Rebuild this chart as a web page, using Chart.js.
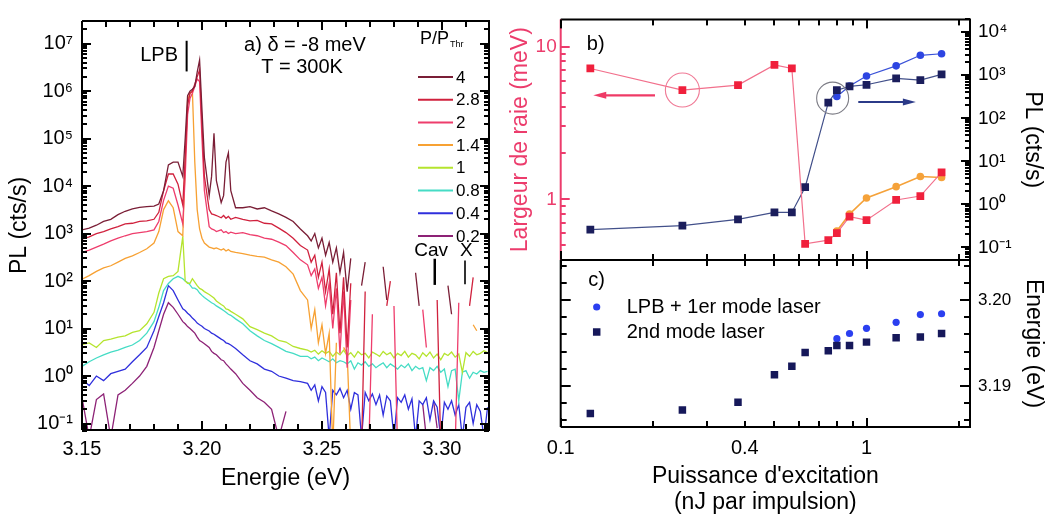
<!DOCTYPE html>
<html>
<head>
<meta charset="utf-8">
<script src="https://cdn.jsdelivr.net/npm/chart.js"></script>
<style>
  body { margin: 0; background: #fff; }
  #wrap { position: relative; width: 1050px; height: 523px; }
  canvas { position: absolute; left: 0; top: 0; }
</style>
</head>
<body>
<div id="wrap">
  <canvas id="chartA" width="1050" height="523"></canvas>
  <canvas id="chartB" width="1050" height="523"></canvas>
  <canvas id="chartC" width="1050" height="523"></canvas>
</div>
<script>
// ---------- panel a : PL spectra ----------
// finer steps in the noisy high-energy tail
const energy = [3.150,3.153,3.156,3.159,3.162,3.165,3.168,3.171,3.174,3.177,3.180,3.182,3.184,3.186,3.188,3.190,3.192,3.193,3.194,3.195,3.196,3.197,3.198,3.199,3.200,3.201,3.203,3.204,3.205,3.206,3.208,3.209,3.210,3.211,3.212,3.214,3.217,3.220,3.223,3.226,3.229,3.232,3.235,3.238,3.241,
  3.2440,3.2455,3.2470,3.2485,3.2500,3.2515,3.2530,3.2545,3.2560,3.2575,
  3.2590,3.2605,3.2620,3.2635,3.2650,3.2665,3.2680,3.2695,3.2710,3.2725,
  3.2740,3.2755,3.2770,3.2785,3.2800,3.2815,3.2830,3.2845,3.2860,3.2875,
  3.2890,3.2905,3.2920,3.2935,3.2950,3.2965,3.2980,3.2995,3.3010,3.3025,
  3.3040,3.3055,3.3070,3.3085,3.3100,3.3115,3.3130,3.3145,3.3160,3.3175,
  3.3190];
const powerRatio = ['4', '2.8', '2', '1.4', '1', '0.8', '0.4', '0.2'];

const spec4 = [1200,1300,1500,1800,2000,2500,2950,3300,3550,3700,3800,4200,
  8000,2.8e4,3.2e4,3.2e4,1.6e4,
  1e5,8e5,1e6,1.1e6,1.25e6,2.5e6,4.5e6,4e5,4e4,
  6300,1.6e4,1.3e5,1.3e4,4500,6300,3.2e4,5e4,8000,3500,
  3500,3700,3300,3500,3000,2600,2200,1800,1250,
  900,700,1000,500,800,350,650,250,500,150,
  400,60,300,null,null,80,250,null,null,null,
  null,200,40,null,null,null,null,null,null,null,
  150,30,null,null,null,null,null,null,null,80,
  20,null,null,null,null,null,null,null,null,null,
  null];
const spec28 = [760,850,1000,1100,1250,1400,1600,1650,1800,1850,2000,2800,
  8000,1.8e4,1.8e4,1.1e4,4000,
  4e4,5e5,9e5,1e6,1.4e6,2e6,2.8e6,2e5,1.6e4,
  3200,2600,2500,2400,2150,2400,2100,2300,2000,2200,
  2000,1850,1900,1650,1600,1300,1050,800,560,
  450,250,350,120,250,60,180,20,150,8,
  120,4,90,null,null,0.03,60,null,null,null,
  null,null,30,100,null,null,null,null,null,null,
  null,null,null,null,null,null,40,0.03,null,null,
  null,null,null,null,null,30,120,null,null,null,
  null];
const spec2 = [400,450,520,600,700,800,900,1000,1050,1100,1200,1800,
  5000,1e4,9000,4000,1600,
  1.6e4,3.2e5,7e5,9e5,1.25e6,1.8e6,1.6e6,1e5,8000,
  1400,1250,1200,1100,1200,1050,1100,1000,1070,1000,
  1050,950,900,800,760,660,560,400,280,
  220,130,180,70,120,30,90,10,70,3,
  60,1.5,40,null,null,null,null,0.03,20,null,
  null,null,null,null,30,0.03,null,null,null,null,
  null,null,25,4,null,null,null,null,null,null,
  null,0.03,35,null,null,null,null,null,null,null,
  null];
const spec14 = [110,130,160,190,210,250,300,340,400,480,630,1100,
  3200,4900,3500,1100,900,
  3.2e4,6.3e5,9e5,1e6,3.2e4,3200,1250,800,630,
  520,500,480,500,450,480,430,460,420,400,
  380,350,330,320,280,250,200,140,63,
  40,10,25,5,12,3,8,0.03,5,null,
  4,3,0.03,null,null,null,null,null,null,null,
  null,null,null,null,null,null,null,null,null,null,
  null,null,null,null,null,null,null,null,null,null,
  null,null,null,null,null,null,12,9,null,null,
  null];
const spec1 = [4.6,5,4,5.6,6,6.6,7,8.3,9,12.6,22,56,
  112,125,130,160,870,
  100,90,90,112,95,80,70,66,60,
  52,48,44,38,32,30,26,25,23,20,
  16,11,9.5,8,7,5.6,5.2,4.2,3.8,
  3.5,3.2,3.5,2.9,3.4,3.0,3.3,2.6,3.2,2.8,
  3.5,2.7,3.1,2.5,3.3,2.8,3.0,2.4,3.2,2.9,
  2.6,3.3,2.8,3.1,2.4,3.0,2.7,3.3,2.5,3.0,
  2.8,2.3,3.1,2.6,3.2,2.4,2.9,2.2,3.0,2.7,
  3.2,2.5,2.9,1.2,3.1,2.6,3.3,2.8,3.0,3.4,
  3.1];
const spec08 = [1.6,2,2.4,2.8,3.2,3.5,4,4.5,5.6,8,14,28,
  63,89,112,126,112,
  100,93,83,71,71,66,56,50,45,
  38,35,33,30,26,24,22,20,19,16,
  12.6,9,7,5.6,4.8,4,3.3,3,2.6,
  2.6,2.3,2.5,2.1,2.4,2.2,2.0,2.3,1.9,2.1,
  2.0,1.8,2.1,1.4,1.9,1.7,2.0,1.6,1.8,1.5,
  1.7,1.9,1.5,1.8,1.6,1.4,1.7,1.5,1.8,1.3,
  1.6,1.4,1.5,0.8,1.5,1.3,1.6,1.2,1.4,0.6,
  1.3,1.4,0.3,1.2,1.3,0.9,1.2,1.1,1.3,1.2,
  1.25];
const spec04 = [0.85,0.63,1.0,0.8,1.12,1.26,1.4,2,2.8,4,9,18,
  35,80,63,40,26,
  24,21,19,16.6,15,13,12,11.2,10,
  8.9,8,7.6,7,6,5.6,5,4.8,4.5,3.8,
  2.8,2.1,1.8,1.4,1.26,1.0,0.9,0.8,0.76,
  0.7,0.5,0.65,0.3,0.6,0.45,0.05,0.5,0.4,0.55,
  0.35,0.5,0.2,0.45,0.4,0.05,0.45,0.3,0.42,0.25,
  0.4,0.15,0.38,0.3,0.05,0.35,0.28,0.4,0.2,0.33,
  0.05,0.3,0.25,0.35,0.12,0.3,0.22,0.05,0.28,0.2,
  0.3,0.15,0.25,0.05,0.22,0.28,0.1,0.25,0.18,0.05,
  0.22];
const spec02 = [0.35,0.05,0.32,0.42,0.05,0.4,0.5,0.7,1.0,1.6,4,9,
  20,35,28,20,14,
  12.6,11,10,9,8,6.6,5.6,5.2,4.8,
  4,3.3,3,2.8,2.2,2.1,1.8,1.6,1.4,1.12,
  0.7,0.5,0.35,0.28,0.2,0.05,0.18,null,null,
  null,null,null,null,null,null,null,null,null,null,
  null,null,null,null,null,null,null,null,null,null,
  null,null,null,null,null,null,null,null,null,null,
  null,null,0.25,0.05,null,0.3,0.08,null,null,null,
  null,null,null,null,null,null,null,null,null,null,
  null];
const spectra = [spec4, spec28, spec2, spec14, spec1, spec08, spec04, spec02];
const specColors = ['#7a1e36', '#d0213d', '#ee3d6c', '#f7a133', '#b5e42e', '#45dcc5', '#2f2fdc', '#8d2276'];
const energyTicks = [3.15, 3.20, 3.25, 3.30];

// ---------- panels b and c : power series ----------
const power = [0.125, 0.25, 0.38, 0.5, 0.57, 0.63, 0.75, 0.8, 0.88, 1.0, 1.25, 1.5, 1.76];
const linewidthMeV = [7.2, 5.2, 5.6, 7.6, 7.2, 0.51, 0.54, 0.6, 0.77, 0.73, 0.99, 1.05, 1.5];
const plMode2 = [0.26, 0.32, 0.45, 0.65, 0.65, 2.5, 230, 450, 550, 600, 840, 770, 1050];
const powerLasing = [0.8, 0.88, 1.0, 1.25, 1.5, 1.76];
const plLpb = [320, 560, 960, 1650, 2900, 3150];
const linewidthLpb = [0.62, 0.80, 1.02, 1.21, 1.41, 1.39];
const energyMode2 = [3.1868, 3.1872, 3.1881, 3.1913, 3.1923, 3.1939, 3.1941, 3.1947, 3.1947, 3.1951, 3.1956, 3.1957, 3.1961];
const energyLpb = [3.1955, 3.1961, 3.1967, 3.1974, 3.1983, 3.1984];
const powerTicks = [0.1, 0.4, 1];
const energyCTicks = [3.19, 3.20];

const FONT = "'Liberation Sans', Arial, Helvetica, sans-serif";
const INK = '#000000';
const PINK = '#ec3c6c';
Chart.defaults.font.family = FONT;
Chart.defaults.color = INK;

const SUP = {'-': '\u207B', '0': '\u2070', '1': '\u00B9', '2': '\u00B2', '3': '\u00B3', '4': '\u2074',
  '5': '\u2075', '6': '\u2076', '7': '\u2077', '8': '\u2078', '9': '\u2079'};
const pow10Label = v => '10' + String(Math.round(Math.log10(v))).split('').map(c => SUP[c]).join('');

function decades(lo, hi) {
  const out = [];
  for (let e = lo; e <= hi; e++) out.push(Math.pow(10, e));
  return out;
}
function logMinors(lo, hi) {
  const out = [];
  for (let e = lo; e <= hi; e++) for (let k = 2; k < 10; k++) out.push(k * Math.pow(10, e));
  return out;
}
function steps(lo, hi, step) {
  const out = [];
  for (let v = lo; v <= hi + step / 10; v += step) out.push(+v.toFixed(4));
  return out;
}

function frame(ctx, a, leftColor) {
  ctx.lineWidth = 2;
  ctx.strokeStyle = INK;
  ctx.beginPath();
  ctx.moveTo(a.left, a.top); ctx.lineTo(a.right, a.top);
  ctx.lineTo(a.right, a.bottom); ctx.lineTo(a.left, a.bottom);
  ctx.stroke();
  ctx.strokeStyle = leftColor || INK;
  ctx.beginPath(); ctx.moveTo(a.left, a.top); ctx.lineTo(a.left, a.bottom); ctx.stroke();
}
// inward tick marks, positioned through the chart scales
function tickMarks(ctx, a, scale, values, len, side, color) {
  ctx.fillStyle = color || INK;
  for (const v of values) {
    const p = Math.round(scale.getPixelForValue(v));
    if (side === 'bottom' || side === 'top') {
      if (!(p >= a.left - 1 && p <= a.right + 1)) continue;
      ctx.fillRect(p - 1, side === 'bottom' ? a.bottom - len : a.top, 2, len);
    } else {
      if (!(p >= a.top - 1 && p <= a.bottom + 1)) continue;
      ctx.fillRect(side === 'left' ? a.left : a.right - len, p - 1, len, 2);
    }
  }
}
function label(ctx, str, x, y, size, color, align) {
  ctx.font = size + 'px ' + FONT;
  ctx.fillStyle = color || INK;
  ctx.textAlign = align || 'center';
  ctx.textBaseline = 'middle';
  ctx.fillText(str, x, y);
}
function arrow(ctx, x1, y, x2, color, w) {
  const dir = Math.sign(x2 - x1);
  ctx.strokeStyle = color; ctx.fillStyle = color; ctx.lineWidth = w;
  ctx.beginPath(); ctx.moveTo(x1, y); ctx.lineTo(x2 - dir * 8, y); ctx.stroke();
  ctx.beginPath(); ctx.moveTo(x2, y); ctx.lineTo(x2 - dir * 13, y - 3.5); ctx.lineTo(x2 - dir * 13, y + 3.5);
  ctx.closePath(); ctx.fill();
}
function vline(ctx, x, y1, y2, w) {
  ctx.strokeStyle = INK; ctx.lineWidth = w;
  ctx.beginPath(); ctx.moveTo(x, y1); ctx.lineTo(x, y2); ctx.stroke();
}

const fixedAxis = { grid: { display: false, drawTicks: false }, border: { display: false } };

// ---------- chart a ----------
const panelA = {
  id: 'panelA',
  afterDraw(chart) {
    const { ctx, chartArea: a, scales: { x, y } } = chart;
    ctx.save();
    frame(ctx, a);
    const eMinor = steps(3.16, 3.31, 0.01).filter(v => !energyTicks.includes(v));
    ['bottom', 'top'].forEach(s => {
      tickMarks(ctx, a, x, energyTicks, 9, s);
      tickMarks(ctx, a, x, eMinor, 6, s);
    });
    ['left', 'right'].forEach(s => {
      tickMarks(ctx, a, y, decades(-1, 7), 9, s);
      tickMarks(ctx, a, y, logMinors(-2, 7), 5, s);
    });
    // LPB marker
    label(ctx, 'LPB', x.getPixelForValue(3.190), y.getPixelForValue(5.7e6), 20, INK, 'right');
    vline(ctx, x.getPixelForValue(3.1936), y.getPixelForValue(1.15e7), y.getPixelForValue(2.6e6), 2);
    label(ctx, 'a) \u03B4 = -8 meV', x.getPixelForValue(3.2429), y.getPixelForValue(9.1e6), 20);
    label(ctx, 'T = 300K', x.getPixelForValue(3.2417), y.getPixelForValue(3.1e6), 20);
    // Cav and X markers
    label(ctx, 'Cav', x.getPixelForValue(3.2955), y.getPixelForValue(430), 19);
    label(ctx, 'X', x.getPixelForValue(3.3102), y.getPixelForValue(430), 19);
    vline(ctx, x.getPixelForValue(3.297), y.getPixelForValue(295), y.getPixelForValue(83), 2.5);
    vline(ctx, x.getPixelForValue(3.3096), y.getPixelForValue(270), y.getPixelForValue(86), 1.6);
    // legend
    const lx = a.right - 71, ly = a.top + 18;
    label(ctx, 'P/P', lx + 2, ly, 18, INK, 'left');
    const w = ctx.measureText('P/P').width;
    label(ctx, 'Thr', lx + 3 + w, ly + 6, 9, INK, 'left');
    chart.data.datasets.forEach((ds, i) => {
      const yy = a.top + 56 + i * 22.7;
      ctx.strokeStyle = ds.borderColor; ctx.lineWidth = 2;
      ctx.beginPath(); ctx.moveTo(lx, yy); ctx.lineTo(lx + 35, yy); ctx.stroke();
      label(ctx, ds.label, lx + 38, yy + 1, 17, INK, 'left');
    });
    ctx.restore();
  }
};

new Chart(document.getElementById('chartA'), {
  type: 'line',
  data: {
    datasets: spectra.map((s, i) => ({
      label: powerRatio[i],
      data: energy.map((e, j) => ({ x: e, y: s[j] })),
      borderColor: specColors[i],
      borderWidth: 1.3,
      pointRadius: 0,
      spanGaps: false
    }))
  },
  options: {
    responsive: false, animation: false, devicePixelRatio: 1,
    layout: { padding: { left: 0, right: 561, top: 7, bottom: 0 } },
    plugins: { legend: { display: false }, tooltip: { enabled: false } },
    scales: {
      x: {
        ...fixedAxis, type: 'linear', min: 3.15, max: 3.3196,
        afterBuildTicks: s => { s.ticks = energyTicks.map(v => ({ value: v })); },
        afterFit: s => { s.height = 93; },
        ticks: { padding: 7, font: { size: 20 }, color: INK, autoSkip: false, maxRotation: 0, callback: v => v.toFixed(2) },
        title: { display: true, text: 'Energie (eV)', font: { size: 23 }, color: INK, padding: { top: 0, bottom: 31 } }
      },
      y: {
        ...fixedAxis, type: 'logarithmic', min: 0.073, max: 3.0e7,
        afterBuildTicks: s => { s.ticks = decades(-1, 7).map(v => ({ value: v })); },
        afterFit: s => { s.width = 82; },
        ticks: { padding: 9, font: { size: 20 }, color: INK, autoSkip: false, callback: v => pow10Label(v) },
        title: { display: true, text: 'PL (cts/s)', font: { size: 23 }, color: INK, padding: { top: 6, bottom: 0 } }
      }
    }
  },
  plugins: [panelA]
});

// ---------- chart b ----------
const xMinor = [0.2, 0.3, 0.4, 0.5, 0.6, 0.7, 0.8, 0.9, 2];
const panelB = {
  id: 'panelB',
  afterDraw(chart) {
    const { ctx, chartArea: a, scales: { x, yL, yR } } = chart;
    ctx.save();
    frame(ctx, a, PINK);
    ['top', 'bottom'].forEach(s => {
      tickMarks(ctx, a, x, [0.1, 1], 9, s);
      tickMarks(ctx, a, x, xMinor, 6, s);
    });
    tickMarks(ctx, a, yL, [1, 10], 9, 'left', PINK);
    tickMarks(ctx, a, yL, logMinors(-1, 1), 5, 'left', PINK);
    tickMarks(ctx, a, yR, decades(-1, 4), 9, 'right');
    tickMarks(ctx, a, yR, logMinors(-2, 4), 5, 'right');
    label(ctx, 'b)', a.left + 35, a.top + 25, 20);
    // circled points and arrows
    ctx.lineWidth = 1.1;
    ctx.strokeStyle = '#f07a96';
    ctx.beginPath(); ctx.arc(x.getPixelForValue(0.25), yL.getPixelForValue(5.2), 17, 0, 2 * Math.PI); ctx.stroke();
    arrow(ctx, x.getPixelForValue(0.2034), yL.getPixelForValue(4.8), x.getPixelForValue(0.1278), '#ef3a66', 2.2);
    ctx.lineWidth = 1.1;
    ctx.strokeStyle = '#7d7d86';
    ctx.beginPath(); ctx.arc(x.getPixelForValue(0.775), yR.getPixelForValue(293), 16, 0, 2 * Math.PI); ctx.stroke();
    arrow(ctx, x.getPixelForValue(0.94), yR.getPixelForValue(239), x.getPixelForValue(1.45), '#2b3a88', 1.8);
    ctx.restore();
  }
};

new Chart(document.getElementById('chartB'), {
  type: 'line',
  data: {
    datasets: [
      { label: 'Largeur de raie', yAxisID: 'yL', data: power.map((p, i) => ({ x: p, y: linewidthMeV[i] })),
        borderColor: '#f2708c', borderWidth: 1.2, pointStyle: 'rect', pointRadius: 5.5, pointBorderWidth: 0,
        pointBackgroundColor: '#f0203c' },
      { label: 'Largeur LPB', yAxisID: 'yL', data: powerLasing.map((p, i) => ({ x: p, y: linewidthLpb[i] })),
        borderColor: '#f5a23a', borderWidth: 1.6, pointStyle: 'circle', pointRadius: 3.8, pointBorderWidth: 0,
        pointBackgroundColor: '#f5a23a' },
      { label: 'PL 2nd mode', yAxisID: 'yR', data: power.map((p, i) => ({ x: p, y: plMode2[i] })),
        borderColor: '#42508a', borderWidth: 1.2, pointStyle: 'rect', pointRadius: 5.5, pointBorderWidth: 0,
        pointBackgroundColor: '#1b1e5c' },
      { label: 'PL LPB', yAxisID: 'yR', data: powerLasing.map((p, i) => ({ x: p, y: plLpb[i] })),
        borderColor: '#3a52d8', borderWidth: 1.2, pointStyle: 'circle', pointRadius: 3.8, pointBorderWidth: 0,
        pointBackgroundColor: '#2d45e2' }
    ]
  },
  options: {
    responsive: false, animation: false, devicePixelRatio: 1,
    layout: { padding: { left: 500, right: 0, top: 7.3, bottom: 263 } },
    plugins: { legend: { display: false }, tooltip: { enabled: false } },
    scales: {
      x: { type: 'logarithmic', min: 0.1, max: 2.18, display: false },
      yL: {
        ...fixedAxis, type: 'logarithmic', position: 'left', min: 0.4, max: 15.1,
        afterBuildTicks: s => { s.ticks = [1, 10].map(v => ({ value: v })); },
        afterFit: s => { s.width = 60.7; },
        ticks: { padding: 4, font: { size: 19 }, color: PINK, autoSkip: false, callback: v => String(v) },
        title: { display: true, text: 'Largeur de raie (meV)', font: { size: 23 }, color: PINK, padding: { top: 7, bottom: 0 } }
      },
      yR: {
        ...fixedAxis, type: 'logarithmic', position: 'right', min: 0.051, max: 19800,
        afterBuildTicks: s => { s.ticks = decades(-1, 4).map(v => ({ value: v })); },
        afterFit: s => { s.width = 80; },
        ticks: { padding: 8, font: { size: 19 }, color: INK, autoSkip: false, callback: v => pow10Label(v) },
        title: { display: true, text: 'PL (cts/s)', font: { size: 23 }, color: INK, padding: { top: 4, bottom: 0 } }
      }
    }
  },
  plugins: [panelB]
});

// ---------- chart c ----------
const panelC = {
  id: 'panelC',
  afterDraw(chart) {
    const { ctx, chartArea: a, scales: { x, y } } = chart;
    ctx.save();
    frame(ctx, a);
    ['top', 'bottom'].forEach(s => {
      tickMarks(ctx, a, x, [0.1, 1], 9, s);
      tickMarks(ctx, a, x, xMinor, 6, s);
    });
    const eMinor = steps(3.186, 3.204, 0.002).filter(v => !energyCTicks.includes(v));
    ['left', 'right'].forEach(s => {
      tickMarks(ctx, a, y, energyCTicks, 10, s);
      tickMarks(ctx, a, y, eMinor, 6, s);
    });
    label(ctx, 'c)', a.left + 36, a.top + 20, 20);
    // legend, styled from the datasets
    const lpb = chart.data.datasets[1], mode2 = chart.data.datasets[0];
    const mx = a.left + 36;
    ctx.fillStyle = lpb.pointBackgroundColor;
    ctx.beginPath(); ctx.arc(mx, a.top + 47, lpb.pointRadius, 0, 2 * Math.PI); ctx.fill();
    label(ctx, lpb.label, a.left + 66, a.top + 47, 20, INK, 'left');
    const h = mode2.pointRadius * Math.SQRT1_2;
    ctx.fillStyle = mode2.pointBackgroundColor;
    ctx.fillRect(mx - h, a.top + 72 - h, 2 * h, 2 * h);
    label(ctx, mode2.label, a.left + 66, a.top + 72, 20, INK, 'left');
    ctx.restore();
  }
};

new Chart(document.getElementById('chartC'), {
  type: 'scatter',
  data: {
    datasets: [
      { label: '2nd mode laser', data: power.map((p, i) => ({ x: p, y: energyMode2[i] })),
        pointStyle: 'rect', pointRadius: 5.3, pointBorderWidth: 0, pointBackgroundColor: '#16185a' },
      { label: 'LPB + 1er mode laser', data: powerLasing.map((p, i) => ({ x: p, y: energyLpb[i] })),
        pointStyle: 'circle', pointRadius: 3.6, pointBorderWidth: 0, pointBackgroundColor: '#2b3ff0' }
    ]
  },
  options: {
    responsive: false, animation: false, devicePixelRatio: 1,
    layout: { padding: { left: 560.7, right: 0, top: 260, bottom: 0 } },
    plugins: { legend: { display: false }, tooltip: { enabled: false } },
    scales: {
      x: {
        ...fixedAxis, type: 'logarithmic', min: 0.1, max: 2.18,
        afterBuildTicks: s => { s.ticks = powerTicks.map(v => ({ value: v })); },
        afterFit: s => { s.height = 96; },
        ticks: { padding: 9, font: { size: 20 }, color: INK, autoSkip: false, maxRotation: 0, callback: v => String(v) },
        title: { display: true, text: ["Puissance d'excitation", '(nJ par impulsion)'], font: { size: 23, lineHeight: 1.1 },
          color: INK, padding: { top: 0, bottom: 8 } }
      },
      y: {
        ...fixedAxis, type: 'linear', position: 'right', min: 3.18523, max: 3.20465,
        afterBuildTicks: s => { s.ticks = energyCTicks.map(v => ({ value: v })); },
        afterFit: s => { s.width = 80; },
        ticks: { padding: 8, font: { size: 17 }, color: INK, autoSkip: false, callback: v => v.toFixed(2) },
        title: { display: true, text: 'Energie (eV)', font: { size: 23 }, color: INK, padding: { top: 3, bottom: 0 } }
      }
    }
  },
  plugins: [panelC]
});
</script>
</body>
</html>
